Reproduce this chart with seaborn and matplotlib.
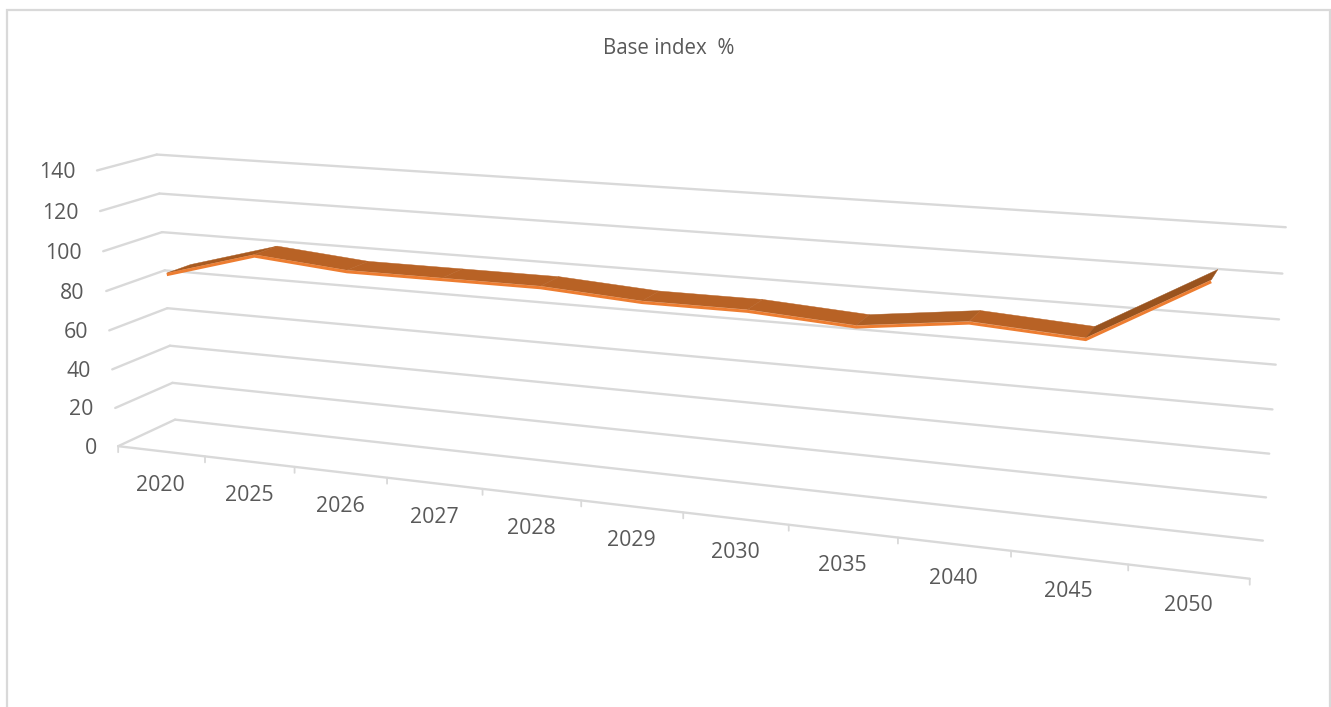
import numpy as np, pandas as pd
import matplotlib
matplotlib.use("Agg")
import matplotlib.pyplot as plt
import seaborn as sns
from matplotlib.transforms import Transform

title = "Base index  %"
years = ["2020","2025","2026","2027","2028","2029","2030","2035","2040","2045","2050"]
base_index = [87, 100, 96, 96, 96, 93, 93, 90, 96, 93, 122]
value_ticks = [0, 20, 40, 60, 80, 100, 120, 140]

# Camera calibration of the pseudo-3D chart box: (category, value, depth) -> pixel
left_front = [(118,446),(115,408),(112,370),(109,331),(106,291),(103,251),(100,211),(97,171)]
left_back  = [(175,419),(172,383),(170,346),(167,308),(165,270),(162,232),(160,194),(157,154)]
right_back = [(1263,541),(1266,498),(1269,454),(1272,410),(1276,365),(1279,319),(1282,273),(1286,227)]
floor_front = {1:(206,456), 2:(295,467), 10:(1127,564), 11:(1251,578)}

n = len(years)
pairs = []
for v, a, b, c in zip(value_ticks, left_front, left_back, right_back):
    pairs += [((0,v,0),a), ((0,v,1),b), ((n,v,1),c)]
pairs += [((k,0,0),p) for k, p in floor_front.items()]
A = []
for (X,Y,Z),(u,w) in pairs:
    Y = Y/100
    A.append([X,Y,Z,1,0,0,0,0,-u*X,-u*Y,-u*Z,-u])
    A.append([0,0,0,0,X,Y,Z,1,-w*X,-w*Y,-w*Z,-w])
P = np.linalg.svd(np.array(A,float))[2][-1].reshape(3,4)

def project(c, v, d):
    c, v, d = np.broadcast_arrays(np.asarray(c,float), np.asarray(v,float), np.asarray(d,float))
    h = P @ np.vstack([c.ravel(), v.ravel()/100, d.ravel(), np.ones(c.size)])
    return h[0]/h[2], h[1]/h[2]

class PlaneAtDepth(Transform):
    """Maps (category position, value) on the plane at a fixed depth to pixels."""
    input_dims = output_dims = 2
    is_separable = False
    has_inverse = False
    def __init__(self, plane_depth):
        super().__init__()
        self.plane_depth = plane_depth
    def transform_non_affine(self, xy):
        xy = np.asarray(xy, float)
        return np.column_stack(project(xy[:,0], xy[:,1], self.plane_depth))

GRID = "#D9D9D9"; TEXT = "#595959"; FRONT = "#ED7D31"
FONT = "Open Sans"
D0, D1 = 0.30, 0.72
HALF = 0.8
seg_colors = ["#A85A20","#B86225","#B86225","#B86225","#B86225","#B86225","#B86225","#AD5F25","#B86225","#99531E"]

sns.set_theme(style="white")
plt.rcParams["font.family"] = [FONT, "DejaVu Sans"]

fig = plt.figure(figsize=(13.31, 7.07), dpi=100, facecolor="white")
ax = fig.add_axes([0, 0, 1, 1])
ax.axis("off")
front_t = PlaneAtDepth(D0) + ax.transData
back_t = PlaneAtDepth(1.0) + ax.transData
floor_t = PlaneAtDepth(0.0) + ax.transData

# outer frame, open at the bottom
ax.plot([6.5,6.5,1330,1330], [707,10,10,707], color=GRID, lw=1.6, solid_joinstyle="miter")

# walls
for v in value_ticks:
    ax.plot([0, n], [v, v], transform=back_t, color=GRID, lw=1.7, solid_capstyle="round")
    sx, sy = project([0, 0], [v, v], [0, 1])
    ax.plot(sx, sy, color=GRID, lw=1.7, solid_capstyle="round", solid_joinstyle="round")
ax.plot([0, n], [0, 0], transform=floor_t, color=GRID, lw=1.7)
for k in range(n+1):
    ax.annotate("", xy=(k,0), xycoords=floor_t, xytext=(0,-6), textcoords="offset pixels",
                arrowprops=dict(arrowstyle="-", color=GRID, lw=1.3, shrinkA=0, shrinkB=0))

# ribbon: top face per segment, front edge as the seaborn line
pos = np.arange(n) + 0.5
vals = np.array(base_index, float)
for i in range(n-1):
    cs = [pos[i], pos[i+1], pos[i+1], pos[i]]
    vs = [vals[i]+HALF, vals[i+1]+HALF, vals[i+1]+HALF, vals[i]+HALF]
    ds = [D0, D0, D1, D1]
    px, py = project(cs, vs, ds)
    ax.fill(px, py, color=seg_colors[i], lw=0.3, zorder=3)

df = pd.DataFrame({"position": pos, "Base index": base_index})
sns.lineplot(data=df, x="position", y="Base index", ax=ax, transform=front_t, color=FRONT,
             lw=2.2, estimator=None, sort=False, legend=False, zorder=4,
             solid_joinstyle="miter", solid_capstyle="butt")

# labels
for v in value_ticks:
    ax.annotate(str(v), xy=(0, v), xycoords=floor_t, xytext=(-21.5, -2), textcoords="offset pixels",
                ha="right", va="center", fontsize=15.3, color=TEXT, family=FONT)
for p, y in zip(pos, years):
    ax.annotate(y, xy=(p, 0), xycoords=floor_t, xytext=(-0.5, -34), textcoords="offset pixels",
                ha="center", va="center", fontsize=15.3, color=TEXT, family=FONT)
ax.text(669, 48, title, ha="center", va="center", fontsize=14.8, color=TEXT, family=FONT)

ax.set_xlim(0, 1331)
ax.set_ylim(707, 0)
ax.set_xlabel(""); ax.set_ylabel("")
fig.savefig("out.png", dpi=100, facecolor="white")
